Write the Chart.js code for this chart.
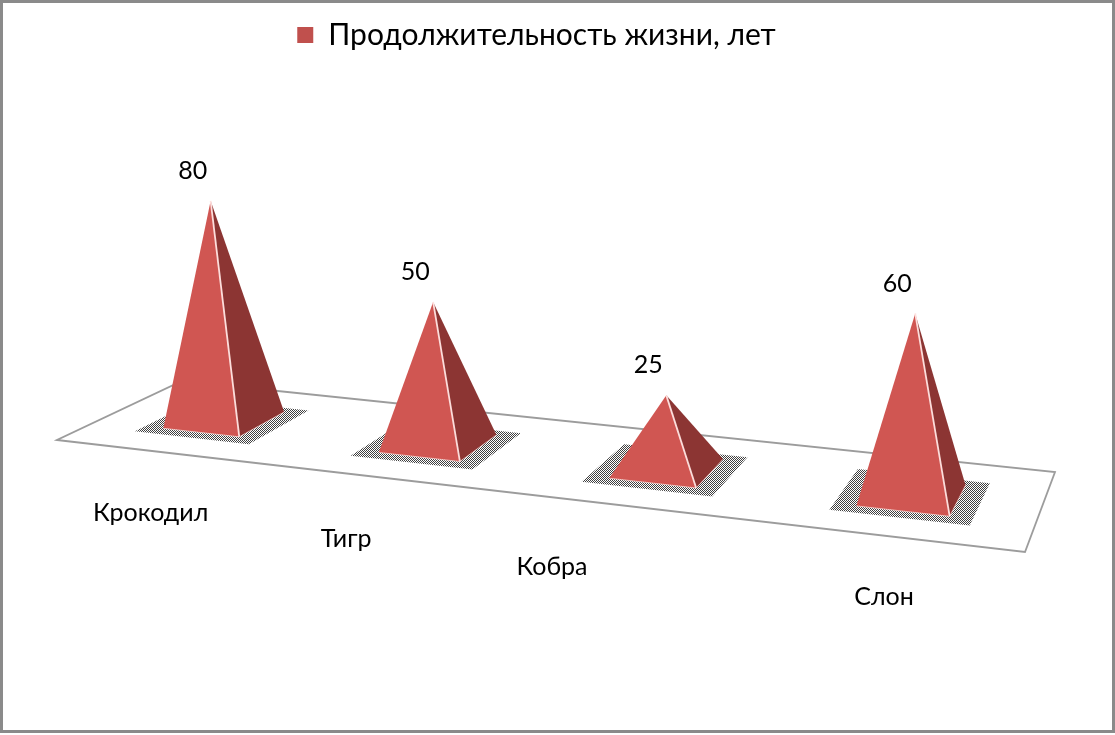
<!DOCTYPE html>
<html lang="ru">
<head>
<meta charset="utf-8">
<title>Продолжительность жизни</title>
<script src="https://cdn.jsdelivr.net/npm/chart.js@4.4.1/dist/chart.umd.min.js"></script>
<style>
  html, body { margin: 0; padding: 0; background: #fff; }
  #wrap { width: 1115px; height: 735px; }
</style>
</head>
<body>
<div id="wrap"><canvas id="chart" width="1115" height="735"></canvas></div>
<script>
const categories = ["Крокодил", "Тигр", "Кобра", "Слон"];
const lifespan = [80, 50, 25, 60];
const seriesName = "Продолжительность жизни, лет";
const yMax = 100;

// look of the tilted 3d floor (screen corners) and of the pyramids
const floor = { fl: [57, 440], fr: [1025, 552], br: [1055, 472], bl: [182, 381] };
const unitHeight = 2.85;     // px per year where depth factor is 1
const tickShift = [-13, -42, -77, -4];
const FONT = "Lato, 'Noto Sans', sans-serif";
const colors = { front: "#d05652", side: "#8c3533", edge: "rgba(255,228,226,0.95)", floor: "#9c9c9c" };

// unit square (u along categories, v into depth) -> floor quad on screen
function makeProjection(q) {
  let [x0, y0] = q.fl, [x1, y1] = q.fr, [x2, y2] = q.br, [x3, y3] = q.bl;
  let dx1 = x1 - x2, dx2 = x3 - x2, dx3 = x0 - x1 + x2 - x3;
  let dy1 = y1 - y2, dy2 = y3 - y2, dy3 = y0 - y1 + y2 - y3;
  let den = dx1 * dy2 - dx2 * dy1;
  let g = (dx3 * dy2 - dx2 * dy3) / den;
  let h = (dx1 * dy3 - dx3 * dy1) / den;
  let a = x1 - x0 + g * x1, b = x3 - x0 + h * x3;
  let d = y1 - y0 + g * y1, e = y3 - y0 + h * y3;
  return (u, v) => {
    let w = g * u + h * v + 1;
    return { x: (a * u + b * v + x0) / w, y: (d * u + e * v + y0) / w, w };
  };
}
const proj = makeProjection(floor);

function poly(ctx, pts) {
  ctx.beginPath();
  pts.forEach((p, i) => i ? ctx.lineTo(p.x, p.y) : ctx.moveTo(p.x, p.y));
  ctx.closePath();
}

let dotPattern = null;
function getDots(ctx) {
  if (dotPattern) return dotPattern;
  let c = document.createElement("canvas");
  c.width = c.height = 2;
  let cx = c.getContext("2d");
  cx.fillStyle = "#111";
  cx.fillRect(0, 0, 1, 1);
  cx.fillRect(1, 1, 1, 1);
  dotPattern = ctx.createPattern(c, "repeat");
  return dotPattern;
}

const pyramids = {
  id: "pyramids",
  beforeDraw(chart) {
    let ctx = chart.ctx;
    ctx.save();
    ctx.fillStyle = "#fff";
    ctx.fillRect(0, 0, chart.width, chart.height);
    ctx.strokeStyle = "#8a8a8a";
    ctx.lineWidth = 3;
    ctx.strokeRect(1.5, 1.5, chart.width - 3, 730);
    // floor
    poly(ctx, [proj(0, 0), proj(1, 0), proj(1, 1), proj(0, 1)]);
    ctx.strokeStyle = colors.floor;
    ctx.lineWidth = 1.8;
    ctx.stroke();
    ctx.restore();
  },
  beforeDatasetsDraw() {
    return false;
  },
  afterDraw(chart) {
    let ctx = chart.ctx;
    let area = chart.chartArea;
    let meta = chart.getDatasetMeta(0);
    ctx.save();
    meta.data.forEach((bar, i) => {
      let u = (bar.x - area.left) / area.width;
      let hw = bar.width / 2 / area.width;
      let c = proj(u, 0.5);
      let hpx = (bar.base - bar.y) / area.height * yMax * unitHeight / c.w;
      let apex = { x: c.x + (c.x - 760) * hpx * 1.2e-4, y: c.y - hpx };
      let fl = proj(u - hw, 0.3), fr = proj(u + hw, 0.3), br = proj(u + hw, 0.7);

      // dithered shadow on the floor
      let s = 0.022;
      poly(ctx, [proj(u - hw - s, 0.22), proj(u + hw + s, 0.22), proj(u + hw + s, 0.76), proj(u - hw - s, 0.76)]);
      ctx.globalAlpha = 0.8;
      ctx.fillStyle = getDots(ctx);
      ctx.fill();
      ctx.globalAlpha = 1;

      poly(ctx, [fr, br, apex]);
      ctx.fillStyle = colors.side;
      ctx.fill();
      poly(ctx, [fl, fr, apex]);
      ctx.fillStyle = colors.front;
      ctx.fill();

      ctx.strokeStyle = colors.edge;
      ctx.lineWidth = 1.8;
      ctx.beginPath();
      ctx.moveTo(apex.x, apex.y);
      ctx.lineTo(fr.x, fr.y);
      ctx.stroke();
      ctx.lineWidth = 1;
      ctx.strokeStyle = "rgba(255,225,222,0.7)";
      ctx.beginPath();
      ctx.moveTo(fl.x, fl.y);
      ctx.lineTo(fr.x, fr.y);
      ctx.lineTo(br.x, br.y);
      ctx.stroke();

      ctx.fillStyle = "#000";
      ctx.textAlign = "center";
      ctx.textBaseline = "middle";
      ctx.font = "25px " + FONT;
      ctx.fillText(String(lifespan[i]), apex.x - 18, apex.y - 30);

      let t = proj(u, 0);
      ctx.fillText(categories[i], t.x + tickShift[i], t.y + 61);
    });
    ctx.restore();
  }
};

new Chart(document.getElementById("chart"), {
  type: "bar",
  data: {
    labels: categories,
    datasets: [{
      label: seriesName,
      data: lifespan,
      backgroundColor: "#c0504d",
      borderWidth: 0,
      categoryPercentage: 0.6,
      barPercentage: 0.6
    }]
  },
  options: {
    responsive: false,
    animation: false,
    devicePixelRatio: 1,
    layout: { padding: { top: 10, right: 42, left: 0, bottom: 0 } },
    scales: {
      x: { display: false, offset: true },
      y: { display: false, min: 0, max: yMax }
    },
    plugins: {
      tooltip: { enabled: false },
      legend: {
        position: "top",
        labels: {
          boxWidth: 16,
          boxHeight: 16,
          color: "#000",
          padding: 10,
          font: { family: FONT, size: 30 }
        }
      }
    }
  },
  plugins: [pyramids]
});
</script>
</body>
</html>
